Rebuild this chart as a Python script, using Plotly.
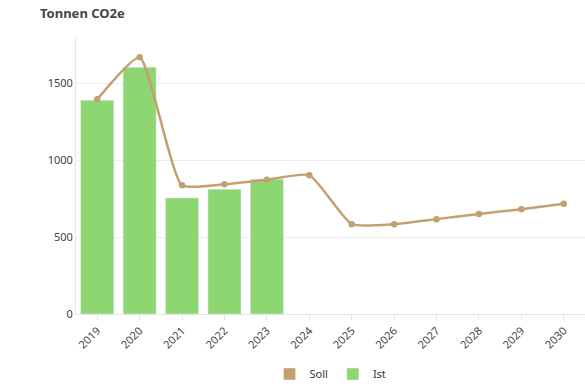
import plotly.graph_objects as go

years = ["2019", "2020", "2021", "2022", "2023", "2024", "2025", "2026", "2027", "2028", "2029", "2030"]
ist_years = ["2019", "2020", "2021", "2022", "2023"]
ist_values = [1390, 1605, 755, 812, 877]
soll_values = [1396, 1670, 838, 844, 873, 903, 584, 584, 617, 650, 682, 717]

soll_color = "#c4a071"
ist_color = "#8dd672"

fig = go.Figure()
fig.add_trace(go.Bar(x=ist_years, y=ist_values, name="Ist", marker_color=ist_color,
                     showlegend=False))
fig.add_trace(go.Scatter(x=years, y=soll_values, mode="lines+markers", name="Soll",
                         line=dict(color=soll_color, width=2.5, shape="spline", smoothing=0.5),
                         marker=dict(size=6.5, color=soll_color), showlegend=False))
# legend entries (square swatches)
fig.add_trace(go.Bar(x=[years[0]], y=[None], name="Soll", marker_color=soll_color))
fig.add_trace(go.Bar(x=[years[0]], y=[None], name="Ist", marker_color=ist_color))

fig.update_layout(
    width=585, height=388,
    margin=dict(l=76, r=0, t=38, b=74),
    plot_bgcolor="white", paper_bgcolor="white",
    font=dict(family="Noto Sans", size=11, color="#444"),
    title=dict(text="<b>Tonnen CO2e</b>", x=40 / 585, xref="container", xanchor="left",
               y=1, yref="container", yanchor="top", pad=dict(t=9),
               font=dict(size=13, color="#444")),
    barmode="overlay", bargap=0.22,
    legend=dict(orientation="h", x=0.5, xanchor="center", y=14 / 388, yref="container",
                yanchor="middle", font=dict(size=11, color="#333"), itemwidth=30,
                traceorder="normal"),
    xaxis=dict(type="category", categoryorder="array", categoryarray=years,
               range=[-0.5, len(years) - 0.5],
               tickangle=-45, showgrid=False, showline=True, linecolor="#e6e6e6",
               ticks="outside", tickcolor="#e6e6e6", ticklen=5, tickfont=dict(size=11),
               automargin=False),
    yaxis=dict(range=[0, 1795], tickvals=[0, 500, 1000, 1500], showgrid=True,
               gridcolor="#ececec", showline=True, linecolor="#e6e6e6", zeroline=False,
               ticks="", tickfont=dict(size=11), automargin=False),
)
fig.write_html("out.html", config={"displayModeBar": False},
               post_script="document.body.style.margin='0';document.body.style.overflow='hidden';")
